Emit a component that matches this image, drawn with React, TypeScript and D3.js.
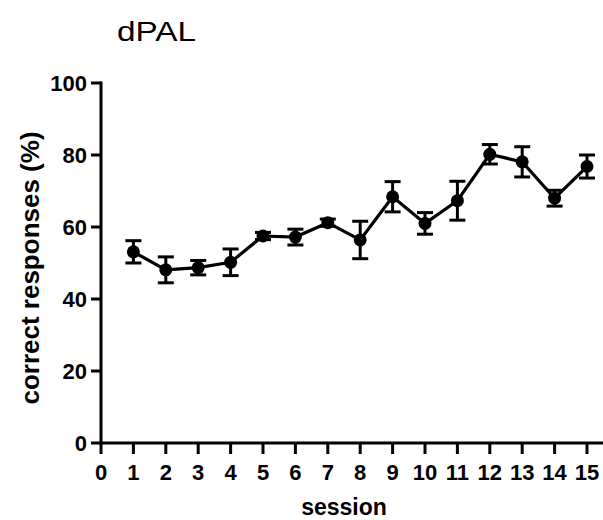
import React from "react";
import * as d3 from "d3";

const sessions = [1, 2, 3, 4, 5, 6, 7, 8, 9, 10, 11, 12, 13, 14, 15];
const means = [53.1, 48.1, 48.7, 50.2, 57.5, 57.2, 61.2, 56.4, 68.4, 61.0, 67.3, 80.2, 78.1, 68.0, 76.8];
const errors = [3.1, 3.6, 2.0, 3.7, 1.0, 2.2, 1.0, 5.2, 4.2, 3.0, 5.4, 2.7, 4.2, 2.2, 3.2];
const xTicks = [0, 1, 2, 3, 4, 5, 6, 7, 8, 9, 10, 11, 12, 13, 14, 15];
const yTicks = [0, 20, 40, 60, 80, 100];

const W = 603;
const H = 520;
const FONT = "Arial, 'Liberation Sans', sans-serif";

export default function App() {
  const x = d3.scaleLinear().domain([0, 15]).range([101, 587]);
  const y = d3.scaleLinear().domain([0, 100]).range([443, 83]);
  const line = d3
    .line<number>()
    .x((_, i) => x(sessions[i]))
    .y((d) => y(d));

  return (
    <svg
      width={W}
      height={H}
      style={{ position: "absolute", left: 0, top: 0, background: "#fff" }}
      fontFamily={FONT}
    >
      <text x={117} y={41} fontSize={28} fill="#000" textLength={79} lengthAdjust="spacingAndGlyphs">
        dPAL
      </text>
      {/* Y axis */}
      <line x1={x(0)} x2={x(0)} y1={y(100) - 1.5} y2={y(0) + 1.5} stroke="#000" strokeWidth={3} />
      {yTicks.map((t) => (
        <g key={"y" + t}>
          <line x1={x(0) - 10} x2={x(0)} y1={y(t)} y2={y(t)} stroke="#000" strokeWidth={3} />
          <text x={x(0) - 14} y={y(t)} dy="0.36em" textAnchor="end" fontSize={22} fontWeight="bold">
            {t}
          </text>
        </g>
      ))}
      {/* X axis */}
      <line x1={x(0) - 1.5} x2={W} y1={y(0)} y2={y(0)} stroke="#000" strokeWidth={3} />
      {xTicks.map((t) => (
        <g key={"x" + t}>
          <line x1={x(t)} x2={x(t)} y1={y(0)} y2={y(0) + 11} stroke="#000" strokeWidth={3} />
          <text x={x(t)} y={y(0) + 37} textAnchor="middle" fontSize={22} fontWeight="bold">
            {t}
          </text>
        </g>
      ))}
      <text x={344} y={515} textAnchor="middle" fontSize={23} fontWeight="bold">
        session
      </text>
      <text
        transform={`translate(39, 268) rotate(-90)`}
        textAnchor="middle"
        fontSize={26}
        fontWeight="bold"
      >
        correct responses (%)
      </text>
      {/* line */}
      <path d={line(means) || ""} fill="none" stroke="#000" strokeWidth={3.2} />
      {/* error bars */}
      {means.map((m, i) => {
        const cx = x(sessions[i]);
        const top = y(m + errors[i]);
        const bot = y(m - errors[i]);
        return (
          <g key={"e" + i} stroke="#000" strokeWidth={3}>
            <line x1={cx} x2={cx} y1={top} y2={bot} />
            <line x1={cx - 8} x2={cx + 8} y1={top} y2={top} />
            <line x1={cx - 8} x2={cx + 8} y1={bot} y2={bot} />
          </g>
        );
      })}
      {means.map((m, i) => (
        <circle key={"c" + i} cx={x(sessions[i])} cy={y(m)} r={6.5} fill="#000" />
      ))}
    </svg>
  );
}
